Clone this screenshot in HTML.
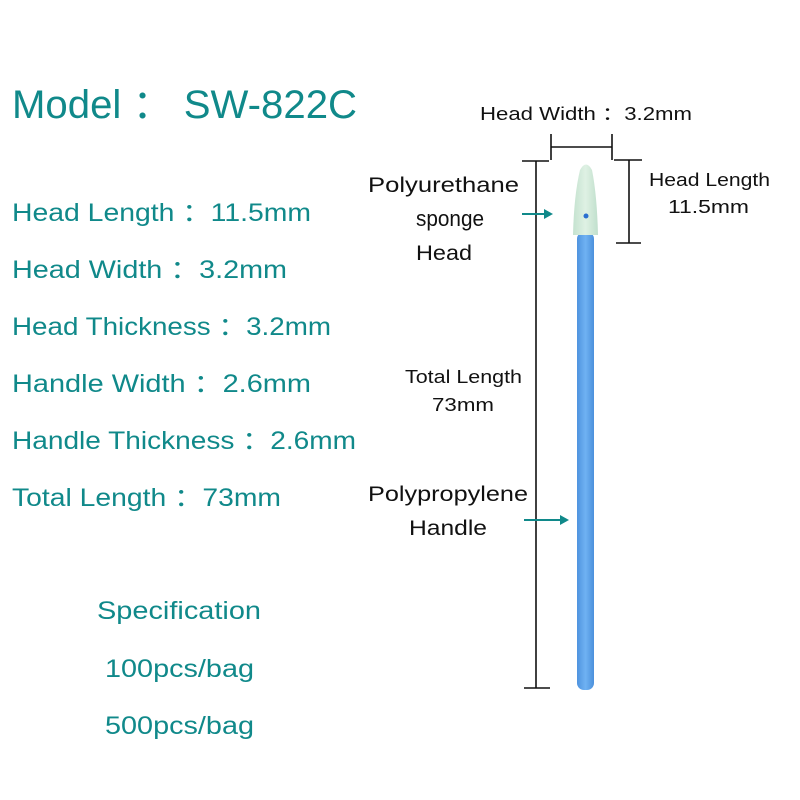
<!DOCTYPE html>
<html><head><meta charset="utf-8"><style>
html,body{margin:0;padding:0;background:#fff;}
svg{display:block;}
.t{fill:#10898a;font-family:"Liberation Sans","DejaVu Sans",sans-serif;}
.k{fill:#111;font-family:"Liberation Sans","DejaVu Sans",sans-serif;}
</style></head><body>
<svg width="800" height="800" viewBox="0 0 800 800" xmlns="http://www.w3.org/2000/svg">
<defs>
<linearGradient id="hd" x1="0" x2="1"><stop offset="0" stop-color="#c4e2cf"/><stop offset="0.5" stop-color="#dff1e4"/><stop offset="1" stop-color="#c0dfcc"/></linearGradient>
<linearGradient id="hb" x1="0" x2="1"><stop offset="0" stop-color="#4f93df"/><stop offset="0.5" stop-color="#6fb2f2"/><stop offset="1" stop-color="#4c90dc"/></linearGradient>
</defs>
<text class="t" x="12" y="118" font-size="40" textLength="345" lengthAdjust="spacingAndGlyphs">Model ： SW-822C</text>
<g class="t" font-size="25">
<text x="12" y="221" textLength="299" lengthAdjust="spacingAndGlyphs">Head Length ：11.5mm</text>
<text x="12" y="278" textLength="275" lengthAdjust="spacingAndGlyphs">Head Width ：3.2mm</text>
<text x="12" y="335" textLength="319" lengthAdjust="spacingAndGlyphs">Head Thickness ：3.2mm</text>
<text x="12" y="392" textLength="299" lengthAdjust="spacingAndGlyphs">Handle Width ：2.6mm</text>
<text x="12" y="449" textLength="344" lengthAdjust="spacingAndGlyphs">Handle Thickness ：2.6mm</text>
<text x="12" y="506" textLength="269" lengthAdjust="spacingAndGlyphs">Total Length ：73mm</text>
<text x="97" y="619" textLength="164" lengthAdjust="spacingAndGlyphs">Specification</text>
<text x="105" y="677" textLength="149" lengthAdjust="spacingAndGlyphs">100pcs/bag</text>
<text x="105" y="734" textLength="149" lengthAdjust="spacingAndGlyphs">500pcs/bag</text>
</g>
<g class="k" font-size="18">
<text x="480" y="120" textLength="212" lengthAdjust="spacingAndGlyphs">Head Width ：3.2mm</text>
<text x="649" y="186" textLength="121" lengthAdjust="spacingAndGlyphs">Head Length</text>
<text x="668" y="213" textLength="81" lengthAdjust="spacingAndGlyphs">11.5mm</text>
<text x="405" y="383" textLength="117" lengthAdjust="spacingAndGlyphs">Total Length</text>
<text x="432" y="411" textLength="62" lengthAdjust="spacingAndGlyphs">73mm</text>
</g>
<g class="k" font-size="21">
<text x="368" y="192" textLength="151" lengthAdjust="spacingAndGlyphs">Polyurethane</text>
<text x="416" y="226" font-size="22" textLength="68" lengthAdjust="spacingAndGlyphs">sponge</text>
<text x="416" y="260" textLength="56" lengthAdjust="spacingAndGlyphs">Head</text>
<text x="368" y="501" textLength="160" lengthAdjust="spacingAndGlyphs">Polypropylene</text>
<text x="409" y="535" textLength="78" lengthAdjust="spacingAndGlyphs">Handle</text>
</g>
<g stroke="#111" stroke-width="1.6" fill="none">
<line x1="551" y1="134" x2="551" y2="160"/><line x1="612" y1="134" x2="612" y2="160"/><line x1="551" y1="147" x2="612" y2="147"/>
<line x1="522" y1="161" x2="549" y2="161"/><line x1="536" y1="161" x2="536" y2="688"/><line x1="524" y1="688" x2="550" y2="688"/>
<line x1="614" y1="160" x2="642" y2="160"/><line x1="629" y1="160" x2="629" y2="243"/><line x1="616" y1="243" x2="641" y2="243"/>
</g>
<g stroke="#10898a" stroke-width="2" fill="#10898a">
<line x1="522" y1="214" x2="545" y2="214"/><polygon points="553,214 544,209 544,219" stroke="none"/>
<line x1="524" y1="520" x2="560" y2="520"/><polygon points="569,520 560,515 560,525" stroke="none"/>
</g>
<rect x="577" y="232" width="17" height="458" rx="7" fill="url(#hb)"/>
<path d="M580,170 Q586,159 592,170 Q597,195 598,235 L573,235 Q574,195 580,170 Z" fill="url(#hd)"/>
<circle cx="586" cy="216" r="2.5" fill="#2a6fd0"/>
</svg>
</body></html>
